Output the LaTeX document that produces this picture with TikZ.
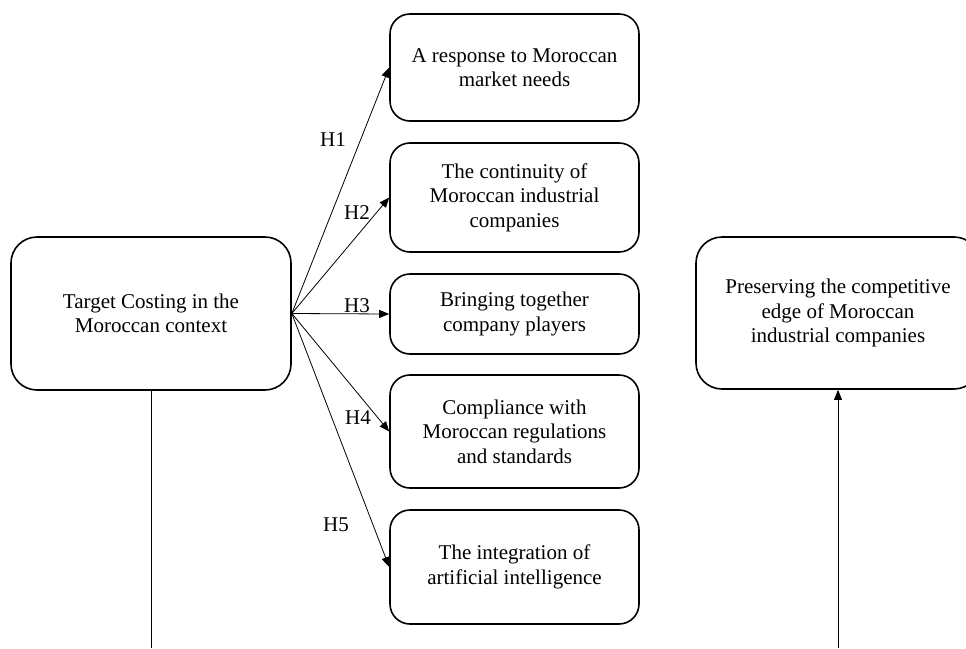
\documentclass[tikz,border=0pt]{standalone}
\usepackage{fontspec}
\setmainfont{Liberation Serif}
\usetikzlibrary{arrows.meta}

\tikzset{
  box/.style={draw, line width=1.6pt, rounded corners=20pt, align=center,
    inner sep=0pt, font=\fontsize{21}{24.5}\selectfont},
  bigbox/.style={box, rounded corners=26pt},
  hyp/.style={font=\fontsize{21}{24.5}\selectfont, inner sep=0pt},
  link/.style={line width=0.8pt, -{Triangle[length=10pt,width=8pt]}}
}

\begin{document}
\begin{tikzpicture}[x=1pt,y=-1pt]
  \useasboundingbox (0,0) rectangle (966,648);

  % the two large boxes
  \node[bigbox, minimum width=280pt, minimum height=153pt] (ctx) at (151,313.5)
    {Target Costing in the\\Moroccan context};
  \node[bigbox, minimum width=284pt, minimum height=152pt] (edge) at (838,313)
    {Preserving the competitive\\edge of Moroccan\\industrial companies};

  % hypotheses
  \node[box, minimum width=249pt, minimum height=107pt] (h1box) at (514.5,67.5)
    {A response to Moroccan\\market needs};
  \node[box, minimum width=249pt, minimum height=109pt] (h2box) at (514.5,197.5)
    {The continuity of\\Moroccan industrial\\companies};
  \node[box, minimum width=249pt, minimum height=80pt] (h3box) at (514.5,314)
    {Bringing together\\company players};
  \node[box, minimum width=249pt, minimum height=113pt] (h4box) at (514.5,431.5)
    {Compliance with\\Moroccan regulations\\and standards};
  \node[box, minimum width=249pt, minimum height=114pt] (h5box) at (514.5,567)
    {The integration of\\artificial intelligence};

  \node[hyp] (H1) at (333,140) {H1};
  \node[hyp] (H2) at (357,213) {H2};
  \node[hyp] (H3) at (357,306) {H3};
  \node[hyp] (H4) at (358,418) {H4};
  \node[hyp] (H5) at (336,525) {H5};

  \foreach \i in {1,...,5}
    \draw[link] (ctx.east) -- (h\i box.west);

  % lines leaving the picture at the bottom
  \coordinate (ctxfoot) at (ctx.south |- 0,648);
  \coordinate (edgefoot) at (edge.south |- 0,648);
  \draw[line width=0.8pt] (ctx.south) -- (ctxfoot);
  \draw[link] (edgefoot) -- (edge.south);
\end{tikzpicture}
\end{document}
